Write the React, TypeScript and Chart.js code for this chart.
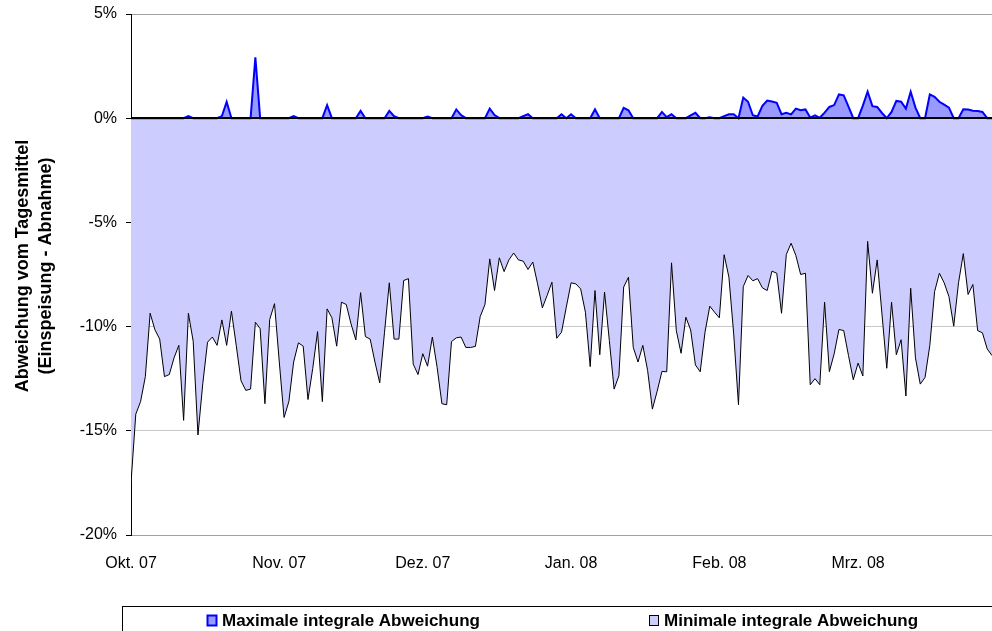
import React, { useEffect, useRef } from 'react';
import { Chart, registerables } from 'chart.js';
Chart.register(...registerables);

const monthStartDays = [0, 31, 61, 92, 123, 152];
const monthLabels = ['Okt. 07', 'Nov. 07', 'Dez. 07', 'Jan. 08', 'Feb. 08', 'Mrz. 08'];
const yTickValues = [5, 0, -5, -10, -15, -20];
const yTitleLines = ['Abweichung vom Tagesmittel', '(Einspeisung - Abnahme)'];
const seriesNames = ['Maximale integrale Abweichung', 'Minimale integrale Abweichung'];

// daily values, Oct 1 2007 .. Mar 29 2008 (percent)
const maxValues = [
  0, 0, 0, 0, 0, 0, 0, 0, 0, 0,
  0, 0, 0.1, 0, 0, 0, 0, 0, 0, 0.1,
  0.78, 0, 0, 0, 0, 0, 2.92, 0, 0, 0,
  0, 0, 0, 0, 0.1, 0, 0, 0, 0, 0,
  0, 0.63, 0, 0, 0, 0, 0, 0, 0.35, 0,
  0, 0, 0, 0, 0.35, 0.1, 0, 0, 0, 0,
  0, 0, 0.08, 0, 0, 0, 0, 0, 0.42, 0.15,
  0, 0, 0, 0, 0, 0.46, 0.15, 0, 0, 0,
  0, 0, 0.1, 0.19, 0, 0, 0, 0, 0, 0,
  0.19, 0, 0.19, 0, 0, 0, 0, 0.42, 0, 0,
  0, 0, 0, 0.5, 0.38, 0, 0, 0, 0, 0,
  0, 0.3, 0.05, 0.19, 0, 0, 0, 0.14, 0.26, 0,
  0, 0.05, 0, 0, 0.1, 0.19, 0.19, 0, 0.99, 0.79,
  0.14, 0.08, 0.59, 0.85, 0.8, 0.74, 0.19, 0.26, 0.18, 0.46,
  0.38, 0.42, 0.03, 0.14, 0.02, 0.27, 0.54, 0.63, 1.14, 1.1,
  0.55, 0, 0, 0.6, 1.27, 0.58, 0.54, 0.25, 0, 0.3,
  0.83, 0.79, 0.46, 1.27, 0.51, 0, 0, 1.14, 1.03, 0.79,
  0.65, 0.51, 0, 0, 0.43, 0.42, 0.36, 0.34, 0.3, 0,
  0,
];

const minValues = [
  -17.5, -14.2, -13.6, -12.4, -9.36, -10.15, -10.6, -12.4, -12.3, -11.5,
  -10.9, -14.5, -9.36, -10.7, -15.2, -12.75, -10.75, -10.5, -10.9, -9.68,
  -10.9, -9.26, -10.9, -12.6, -13.06, -13.0, -9.79, -10.1, -13.7, -9.66,
  -8.9, -11.7, -14.36, -13.6, -11.7, -10.78, -10.94, -13.5, -12.0, -10.24,
  -13.6, -9.15, -9.58, -10.94, -8.83, -8.94, -9.87, -10.64, -8.37, -10.48,
  -10.6, -11.7, -12.7, -10.27, -7.9, -10.6, -10.6, -7.79, -7.7, -11.8,
  -12.3, -11.3, -11.9, -10.5, -11.96, -13.7, -13.75, -10.72, -10.54, -10.5,
  -11.0, -11.0, -10.95, -9.52, -8.94, -6.75, -8.27, -6.7, -7.36, -6.8,
  -6.47, -6.8, -6.86, -7.26, -6.9, -7.95, -9.1, -8.5, -7.87, -10.56,
  -10.27, -9.07, -7.9, -7.95, -8.19, -9.31, -11.92, -8.27, -11.35, -8.35,
  -10.67, -13.0, -12.36, -8.1, -7.63, -11.0, -11.7, -10.9, -12.1, -13.96,
  -13.1, -12.15, -12.17, -6.94, -10.19, -11.28, -9.55, -10.16, -11.84, -12.17,
  -10.27, -9.02, -9.31, -9.58, -6.55, -7.63, -10.35, -13.75, -8.08, -7.55,
  -7.8, -7.7, -8.14, -8.27, -7.34, -7.44, -9.36, -6.54, -6.0, -6.59,
  -7.5, -7.44, -12.79, -12.5, -12.79, -8.83, -12.16, -11.31, -10.14, -10.19,
  -11.39, -12.55, -11.75, -12.37, -5.91, -8.4, -6.8, -9.4, -12.0, -8.83,
  -11.35, -10.63, -13.33, -8.16, -11.5, -12.76, -12.44, -10.9, -8.32, -7.44,
  -7.9, -8.56, -9.98, -7.9, -6.5, -8.46, -7.98, -10.19, -10.3, -11.07,
  -11.39,
];

const FONT = "'Liberation Sans', Arial, sans-serif";
const MAX_FILL = '#9999FF';
const MAX_LINE = '#0000FF';
const MIN_FILL = '#CCCCFF';
const MIN_LINE = '#000000';

const zeroLinePlugin = {
  id: 'zeroLine',
  afterDatasetsDraw(chart: any) {
    const { ctx, chartArea, scales } = chart;
    const y = Math.round(scales.y.getPixelForValue(0));
    ctx.save();
    ctx.strokeStyle = '#000';
    ctx.lineWidth = 2;
    ctx.beginPath();
    ctx.moveTo(chartArea.left, y);
    ctx.lineTo(chartArea.right, y);
    ctx.stroke();
    ctx.restore();
  },
};

const titlePlugin = {
  id: 'yTitle',
  afterDraw(chart: any) {
    const { ctx } = chart;
    ctx.save();
    ctx.fillStyle = '#000';
    ctx.font = `bold 18px ${FONT}`;
    ctx.textAlign = 'center';
    ctx.textBaseline = 'middle';
    const xs = [23, 46];
    yTitleLines.forEach((line, i) => {
      ctx.save();
      ctx.translate(xs[i], 266);
      ctx.rotate(-Math.PI / 2);
      ctx.fillText(line, 0, 0);
      ctx.restore();
    });
    ctx.restore();
  },
};

const legendPlugin = {
  id: 'boxLegend',
  afterDraw(chart: any) {
    const { ctx } = chart;
    ctx.save();
    ctx.strokeStyle = '#000';
    ctx.lineWidth = 1;
    ctx.strokeRect(122.5, 606.5, 1000, 100);
    const items = [
      { x: 207, fill: MAX_FILL, stroke: MAX_LINE, lw: 2, text: seriesNames[0] },
      { x: 649, fill: MIN_FILL, stroke: MIN_LINE, lw: 1, text: seriesNames[1] },
    ];
    ctx.font = `bold 17px ${FONT}`;
    ctx.textBaseline = 'middle';
    ctx.textAlign = 'left';
    items.forEach((it) => {
      ctx.fillStyle = it.fill;
      ctx.fillRect(it.x, 615, 10, 11);
      ctx.strokeStyle = it.stroke;
      ctx.lineWidth = it.lw;
      ctx.strokeRect(it.x + 0.5, 615.5, 9, 10);
      ctx.fillStyle = '#000';
      ctx.fillText(it.text, it.x + 15, 621);
    });
    ctx.restore();
  },
};

export default function App() {
  const ref = useRef<HTMLCanvasElement>(null);
  useEffect(() => {
    if (!ref.current) return;
    const chart = new Chart(ref.current, {
      type: 'line',
      data: {
        datasets: [
          {
            label: seriesNames[0],
            data: maxValues.map((v, i) => ({ x: i, y: v })),
            borderColor: MAX_LINE,
            backgroundColor: MAX_FILL,
            borderWidth: 2,
            pointRadius: 0,
            fill: 'origin',
            tension: 0,
          },
          {
            label: seriesNames[1],
            data: minValues.map((v, i) => ({ x: i, y: v })),
            borderColor: MIN_LINE,
            backgroundColor: MIN_FILL,
            borderWidth: 1,
            pointRadius: 0,
            fill: 'origin',
            tension: 0,
          },
        ],
      },
      options: {
        animation: false,
        responsive: false,
        layout: { padding: { top: 14, left: 0, right: 0, bottom: 0 } },
        plugins: { legend: { display: false }, tooltip: { enabled: false } },
        scales: {
          x: {
            type: 'linear',
            min: 0,
            max: 180,
            grid: { display: false, drawTicks: false },
            border: { display: false },
            afterBuildTicks: (scale: any) => {
              scale.ticks = monthStartDays.map((v) => ({ value: v }));
            },
            afterFit: (scale: any) => {
              scale.height = 96;
              scale.paddingLeft = 0;
              scale.paddingRight = 0;
            },
            ticks: {
              autoSkip: false,
              maxRotation: 0,
              padding: 19,
              color: '#000',
              font: { family: FONT, size: 16 },
              callback: (v: any) => {
                const idx = monthStartDays.indexOf(Number(v));
                return idx >= 0 ? monthLabels[idx] : '';
              },
            },
          },
          y: {
            min: -20,
            max: 5,
            afterBuildTicks: (scale: any) => {
              scale.ticks = yTickValues.map((v) => ({ value: v }));
            },
            afterFit: (scale: any) => {
              scale.width = 131;
              scale.paddingTop = 0;
              scale.paddingBottom = 0;
            },
            grid: {
              color: (c: any) => (c.tick && (c.tick.value === 5 || c.tick.value === -20) ? '#a0a0a0' : '#c8c8c8'),
              tickColor: '#000',
              tickLength: 5,
            },
            border: { color: '#000', width: 1 },
            ticks: {
              padding: 9,
              color: '#000',
              font: { family: FONT, size: 16 },
              callback: (v: any) => `${v}%`,
            },
          },
        },
      },
      plugins: [zeroLinePlugin, titlePlugin, legendPlugin],
    } as any);
    return () => chart.destroy();
  }, []);
  return (
    <div style={{ position: 'fixed', left: 0, top: 0, width: 992, height: 631, background: '#fff' }}>
      <canvas ref={ref} width={992} height={631} style={{ display: 'block' }} />
    </div>
  );
}
